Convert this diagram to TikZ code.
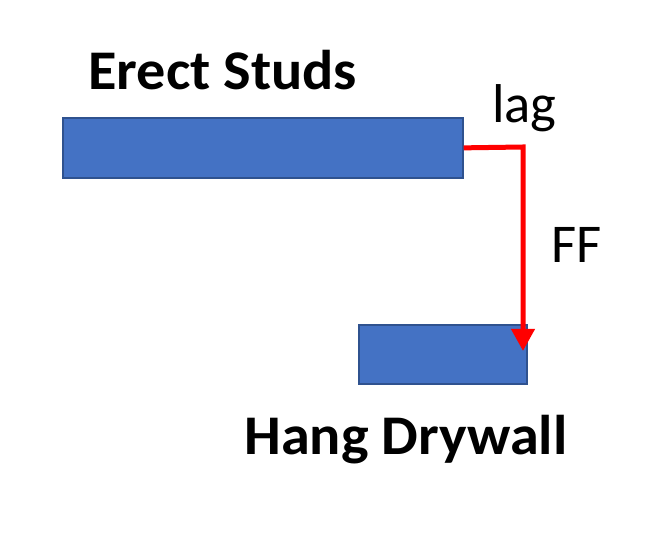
\documentclass[tikz,border=0pt]{standalone}
\usepackage{fontspec}
\setmainfont{Carlito}
\usetikzlibrary{arrows.meta}
\definecolor{barfill}{HTML}{4472C4}
\definecolor{bardraw}{HTML}{2F528F}
\tikzset{
  bar/.style={draw=bardraw, fill=barfill, line width=1.3pt, rectangle, inner sep=0pt, anchor=north west},
  title/.style={font=\fontsize{42}{50}\selectfont\bfseries, anchor=base west, inner sep=0pt, xscale=1.04},
  lbl/.style={font=\fontsize{41}{49}\selectfont, anchor=base west, inner sep=0pt},
  link/.style={draw=red, line width=3.75pt, -{Triangle[length=16.5pt,width=17pt]}}
}
\begin{document}
\begin{tikzpicture}[x=0.75pt,y=-0.75pt]
\useasboundingbox (0,0) rectangle (651,534);
\node[bar, minimum width=300pt, minimum height=45pt] (studs) at (62,117) {};
\node[bar, minimum width=126pt, minimum height=44.25pt] (drywall) at (358,324) {};
\node[title] (t1) at (88,90) {Erect Studs};
\node[title] (t2) at (244,455) {Hang Drywall};
\node[lbl] (lag) at (492,123) {lag};
\node[lbl] (ff) at (551,263) {FF};
\coordinate (corner) at (523,147);
\coordinate (tip) at (523,351);
\draw[link] (studs.east) -- (corner) -- (tip);
\end{tikzpicture}
\end{document}
